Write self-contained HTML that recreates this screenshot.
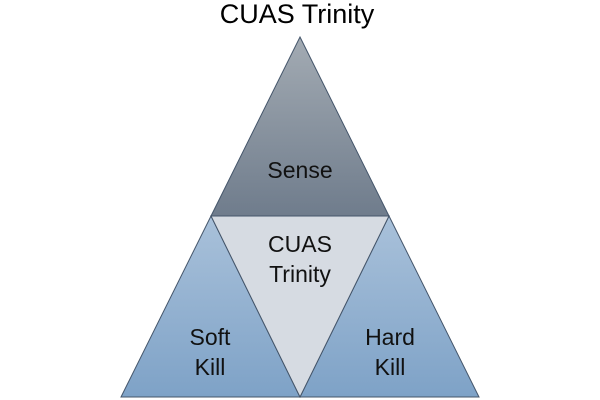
<!DOCTYPE html>
<html><head><style>body{margin:0;background:#fff}svg{display:block}</style></head><body>
<svg width="600" height="400" viewBox="0 0 600 400" xmlns="http://www.w3.org/2000/svg">
<defs>
<linearGradient id="g1" x1="0" y1="0" x2="0" y2="1"><stop offset="0" stop-color="#a3abb3"/><stop offset="1" stop-color="#6f7c8c"/></linearGradient>
<linearGradient id="g2" x1="0" y1="0" x2="0" y2="1"><stop offset="0" stop-color="#a9c1da"/><stop offset="1" stop-color="#7ea2c7"/></linearGradient>
</defs>
<text x="297" y="23" font-family="Liberation Sans, sans-serif" font-size="27" text-anchor="middle" fill="#000">CUAS Trinity</text>
<g stroke="#44556a" stroke-width="1">
<polygon points="300,37 389,216 211,216" fill="url(#g1)"/>
<polygon points="211,216 300,397 121,397" fill="url(#g2)"/>
<polygon points="389,216 479,397 300,397" fill="url(#g2)"/>
<polygon points="211,216 389,216 300,397" fill="#d6dbe2"/>
</g>
<g font-family="Liberation Sans, sans-serif" font-size="23" text-anchor="middle" fill="#111">
<text x="300" y="178">Sense</text>
<text x="300" y="252">CUAS</text>
<text x="300" y="282">Trinity</text>
<text x="210" y="345">Soft</text>
<text x="210" y="375">Kill</text>
<text x="390" y="345">Hard</text>
<text x="390" y="375">Kill</text>
</g>
</svg>
</body></html>
